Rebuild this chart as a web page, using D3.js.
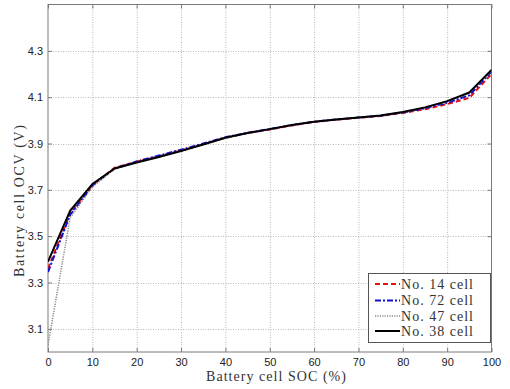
<!DOCTYPE html>
<html><head><meta charset="utf-8">
<script src="https://cdn.jsdelivr.net/npm/d3@7"></script>
<style>body{margin:0;background:#fff}svg{display:block}</style>
</head><body>
<svg id="c" width="510" height="389"></svg>
<script>
const soc = [0,5,10,15,20,25,30,35,40,45,50,55,60,65,70,75,80,85,90,95,100];
const cell14 = [3.36,3.600,3.720,3.795,3.822,3.845,3.870,3.897,3.925,3.945,3.960,3.978,3.993,4.003,4.011,4.019,4.032,4.048,4.070,4.097,4.200];
const cell72 = [3.345,3.592,3.718,3.792,3.822,3.848,3.873,3.900,3.927,3.946,3.962,3.980,3.994,4.004,4.012,4.020,4.034,4.052,4.076,4.108,4.210];
const cell47 = [3.03,3.580,3.712,3.790,3.818,3.842,3.868,3.896,3.924,3.944,3.960,3.979,3.993,4.003,4.011,4.020,4.035,4.055,4.080,4.118,4.213];
const cell38 = [3.39,3.610,3.725,3.792,3.818,3.842,3.868,3.896,3.925,3.945,3.962,3.980,3.994,4.004,4.012,4.021,4.036,4.056,4.083,4.120,4.218];
const xTicks = [0,10,20,30,40,50,60,70,80,90,100];
const yTicks = [3.1,3.3,3.5,3.7,3.9,4.1,4.3];
const seriesNames = ["No. 14  cell","No. 72  cell","No. 47  cell","No. 38  cell"];
const seriesData = [cell14, cell72, cell47, cell38];
const styles = [
  {color:"#e01010", dash:"5,3", w:2},
  {color:"#1010d0", dash:"6,2,2,2", w:2},
  {color:"#888888", dash:"1.2,1.2", w:1.5},
  {color:"#000000", dash:null, w:2}
];

const svg = d3.select("#c");
const L=48, R=491.5, T=4.5, B=352;
const x = d3.scaleLinear().domain([0,100]).range([L,R]);
const y = d3.scaleLinear().domain([3.0,4.5]).range([B,T]);

const g = svg.append("g");
g.selectAll(".gx").data(xTicks.slice(1,-1)).join("line")
  .attr("x1",d=>x(d)+0.5).attr("x2",d=>x(d)+0.5).attr("y1",T).attr("y2",B)
  .attr("stroke","#b8b8b8").attr("stroke-dasharray","1,1.5").attr("stroke-width",1);
g.selectAll(".gy").data(yTicks).join("line")
  .attr("y1",d=>Math.round(y(d))+0.5).attr("y2",d=>Math.round(y(d))+0.5).attr("x1",L).attr("x2",R)
  .attr("stroke","#b8b8b8").attr("stroke-dasharray","1,1.5").attr("stroke-width",1);

const axB = d3.axisBottom(x).tickValues(xTicks).tickSize(-4).tickPadding(6).tickFormat(d3.format("d"));
const axL = d3.axisLeft(y).tickValues(yTicks).tickSize(-4).tickPadding(5).tickFormat(d3.format(".1f"));
const axT = d3.axisTop(x).tickValues(xTicks).tickSize(-4).tickFormat("");
const axR = d3.axisRight(y).tickValues(yTicks).tickSize(-4).tickFormat("");
function styleAx(s){
  s.selectAll("path,line").attr("stroke","#7a7a7a");
  s.selectAll("text").attr("fill","#222").style("font-family","'Liberation Sans', Arial, sans-serif").style("font-size","11px");
}
svg.append("g").attr("transform",`translate(0,${B})`).call(axB).call(styleAx).select(".domain").remove();
svg.append("g").attr("transform",`translate(${L},0)`).call(axL).call(styleAx).select(".domain").remove();
svg.append("g").attr("transform",`translate(0,${T})`).call(axT).call(styleAx).select(".domain").remove();
svg.append("g").attr("transform",`translate(${R},0)`).call(axR).call(styleAx).select(".domain").remove();
svg.append("rect").attr("x",L).attr("y",T).attr("width",R-L).attr("height",B-T)
  .attr("fill","none").attr("stroke","#7a7a7a").attr("stroke-width",1);

const line = d3.line().x((d,i)=>x(soc[i])).y(d=>y(d));
svg.append("clipPath").attr("id","cp").append("rect").attr("x",L).attr("y",T).attr("width",R-L).attr("height",B-T);
seriesData.forEach((arr,k)=>{
  svg.append("path").datum(arr).attr("d",line).attr("fill","none")
    .attr("clip-path","url(#cp)")
    .attr("stroke",styles[k].color).attr("stroke-width",styles[k].w)
    .attr("stroke-dasharray",styles[k].dash).attr("stroke-linejoin","round");
});

const serif = "'Liberation Serif', 'DejaVu Serif', serif";
svg.append("text").attr("x",276).attr("y",381).attr("text-anchor","middle")
  .attr("textLength",140).attr("lengthAdjust","spacing")
  .style("font-family",serif).style("font-size","14px").attr("fill","#333")
  .text("Battery cell SOC (%)");
svg.append("text").attr("transform","translate(24,201) rotate(-90)").attr("text-anchor","middle")
  .attr("textLength",152).attr("lengthAdjust","spacing")
  .style("font-family",serif).style("font-size","14px").attr("fill","#333")
  .text("Battery cell OCV (V)");

const lg = svg.append("g");
lg.append("rect").attr("x",368.5).attr("y",273.5).attr("width",122).attr("height",69)
  .attr("fill","#fff").attr("stroke","#555").attr("stroke-width",1);
const ly = [284,300.5,316,331];
seriesNames.forEach((nm,k)=>{
  lg.append("line").attr("x1",375).attr("x2",400).attr("y1",ly[k]).attr("y2",ly[k])
    .attr("stroke",styles[k].color).attr("stroke-width",styles[k].w).attr("stroke-dasharray",styles[k].dash);
  lg.append("text").attr("x",401).attr("y",ly[k]+4.5)
    .attr("textLength",72).attr("lengthAdjust","spacing")
    .style("font-family",serif).style("font-size","14px").attr("fill","#333").text(nm);
});
</script>
</body></html>
